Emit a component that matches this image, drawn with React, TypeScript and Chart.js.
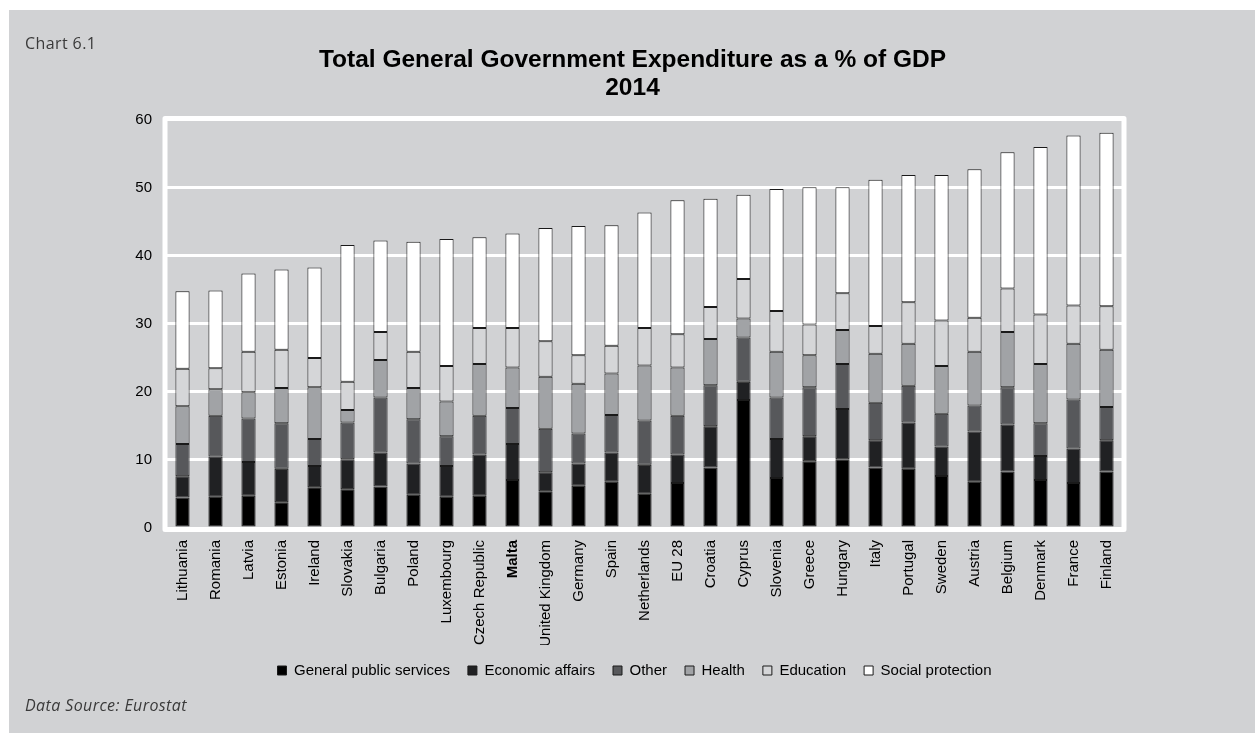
import React, { useEffect, useRef } from "react";
import { Chart, registerables } from "chart.js";

Chart.register(...registerables);

const categories = [
  "Lithuania", "Romania", "Latvia", "Estonia", "Ireland", "Slovakia", "Bulgaria", "Poland",
  "Luxembourg", "Czech Republic", "Malta", "United Kingdom", "Germany", "Spain", "Netherlands",
  "EU 28", "Croatia", "Cyprus", "Slovenia", "Greece", "Hungary", "Italy", "Portugal", "Sweden",
  "Austria", "Belgium", "Denmark", "France", "Finland",
];

const generalPublicServices = [4.5, 4.6, 4.75, 3.8, 6.0, 5.7, 6.1, 4.9, 4.6, 4.75, 7.05, 5.4, 6.2, 6.8, 5.05, 6.6, 8.9, 18.8, 7.35, 9.8, 10.1, 8.9, 8.7, 7.65, 6.8, 8.3, 7.05, 6.6, 8.3];
const economicAffairs = [3.1, 5.9, 4.95, 4.9, 3.1, 4.4, 5.0, 4.6, 4.5, 6.05, 5.3, 2.8, 3.3, 4.3, 4.25, 4.2, 6.05, 2.7, 5.75, 3.7, 7.4, 4.0, 6.8, 4.35, 7.4, 6.9, 3.55, 5.1, 4.6];
const other = [4.75, 6.0, 6.4, 6.7, 4.0, 5.4, 8.1, 6.5, 4.4, 5.7, 5.3, 6.4, 4.4, 5.5, 6.5, 5.7, 6.05, 6.5, 6.1, 7.2, 6.6, 5.5, 5.4, 4.8, 3.8, 5.5, 4.8, 7.2, 4.9];
const health = [5.55, 3.9, 3.85, 5.2, 7.6, 1.85, 5.5, 4.6, 5.1, 7.6, 5.95, 7.65, 7.3, 6.1, 8.1, 7.1, 6.8, 2.8, 6.7, 4.7, 5.0, 7.2, 6.2, 7.0, 7.9, 8.1, 8.7, 8.2, 8.4];
const education = [5.5, 3.1, 5.95, 5.6, 4.3, 4.15, 4.1, 5.3, 5.2, 5.3, 5.8, 5.2, 4.2, 4.1, 5.5, 4.9, 4.7, 5.8, 6.0, 4.5, 5.4, 4.1, 6.1, 6.7, 5.0, 6.4, 7.3, 5.6, 6.4];
const socialProtection = [11.4, 11.4, 11.5, 11.8, 13.3, 20.1, 13.45, 16.2, 18.7, 13.35, 13.9, 16.65, 19.0, 17.7, 17.0, 19.7, 15.9, 12.4, 17.95, 20.2, 15.6, 21.5, 18.7, 21.4, 21.85, 20.05, 24.6, 25.0, 25.5];

const seriesNames = ["General public services", "Economic affairs", "Other", "Health", "Education", "Social protection"];
const seriesColors = ["#000000", "#202123", "#57585b", "#a1a3a6", "#d5d6d8", "#ffffff"];
const yTicks = [0, 10, 20, 30, 40, 50, 60];
const highlighted = "Malta";

const W = 1255;
const H = 733;

const framePlugin = {
  id: "frame",
  afterLayout(chart: any) {
    const lg = chart.legend;
    if (lg) {
      lg.left += 20;
      lg.right += 20;
    }
    const tb = chart.titleBlock;
    if (tb) {
      tb.left += 18;
      tb.right += 18;
    }
  },
  beforeDatasetsDraw(chart: any) {
    const { ctx, chartArea } = chart;
    ctx.save();
    ctx.strokeStyle = "#ffffff";
    ctx.lineWidth = 5;
    ctx.lineJoin = "round";
    ctx.strokeRect(chartArea.left - 1, chartArea.top - 1.5, chartArea.right - chartArea.left + 2, chartArea.bottom - chartArea.top + 3);
    ctx.restore();
  },
};

export default function App() {
  const ref = useRef<HTMLCanvasElement>(null);

  useEffect(() => {
    if (!ref.current) return;
    const values = [generalPublicServices, economicAffairs, other, health, education, socialProtection];
    const chart = new Chart(ref.current, {
      type: "bar",
      data: {
        labels: categories,
        datasets: values.map((d, i) => ({
          label: seriesNames[i],
          data: d,
          backgroundColor: seriesColors[i],
          borderColor: "#1a1a1a",
          borderWidth: 1,
          borderSkipped: false,
          barPercentage: 0.43,
          categoryPercentage: 1,
        })),
      },
      options: {
        responsive: false,
        animation: false,
        layout: { padding: { left: 106, right: 132, top: 0, bottom: 45 } },
        plugins: {
          title: {
            display: true,
            text: ["Total General Government Expenditure as a % of GDP", "2014"],
            color: "#000",
            font: { family: "Arial, 'Liberation Sans', sans-serif", size: 24.5, weight: "bold", lineHeight: 1.12 },
            padding: { top: 47, bottom: 18 },
          },
          legend: {
            position: "bottom",
            labels: {
              boxWidth: 9,
              boxHeight: 9,
              padding: 18,
              color: "#000",
              font: { family: "Arial, 'Liberation Sans', sans-serif", size: 15 },
            },
          },
          tooltip: { enabled: false },
        },
        scales: {
          x: {
            stacked: true,
            grid: { display: false, drawTicks: false },
            border: { display: false },
            afterFit(scale: any) { scale.height = 117; },
            ticks: {
              autoSkip: false,
              maxRotation: 90,
              minRotation: 90,
              padding: 12,
              color: "#000",
              font: (ctx: any) => ({
                family: "Arial, 'Liberation Sans', sans-serif",
                size: 15,
                weight: categories[ctx.index] === highlighted ? "bold" : "normal",
              }),
            },
          },
          y: {
            stacked: true,
            min: 0,
            max: 60,
            afterFit(scale: any) { scale.width = 60; },
            afterBuildTicks(scale: any) { scale.ticks = yTicks.map((v) => ({ value: v })); },
            grid: { color: "#ffffff", lineWidth: 3, drawTicks: false },
            border: { display: false },
            ticks: {
              padding: 14,
              color: "#000",
              font: { family: "Arial, 'Liberation Sans', sans-serif", size: 15 },
            },
          },
        },
      },
      plugins: [framePlugin],
    } as any);
    return () => chart.destroy();
  }, []);

  return (
    <div style={{ position: "absolute", left: 0, top: 0, width: W, height: H, overflow: "hidden" }}>
      <div style={{ position: "absolute", left: 9, top: 10, width: W - 9, height: H - 10, background: "#d1d2d4" }} />
      <canvas ref={ref} width={W} height={H} style={{ position: "absolute", left: 0, top: 0, width: W, height: H }} />
      <div style={{ position: "absolute", left: 25, top: 33, fontFamily: "'Open Sans', sans-serif", fontSize: 16, letterSpacing: "0.4px", color: "#3a3a3a", lineHeight: "20px" }}>
        Chart 6.1
      </div>
      <div style={{ position: "absolute", left: 25, top: 695, fontFamily: "'Open Sans', sans-serif", fontStyle: "italic", fontSize: 16, letterSpacing: "0.4px", color: "#3a3a3a", lineHeight: "20px" }}>
        Data Source: Eurostat
      </div>
    </div>
  );
}
